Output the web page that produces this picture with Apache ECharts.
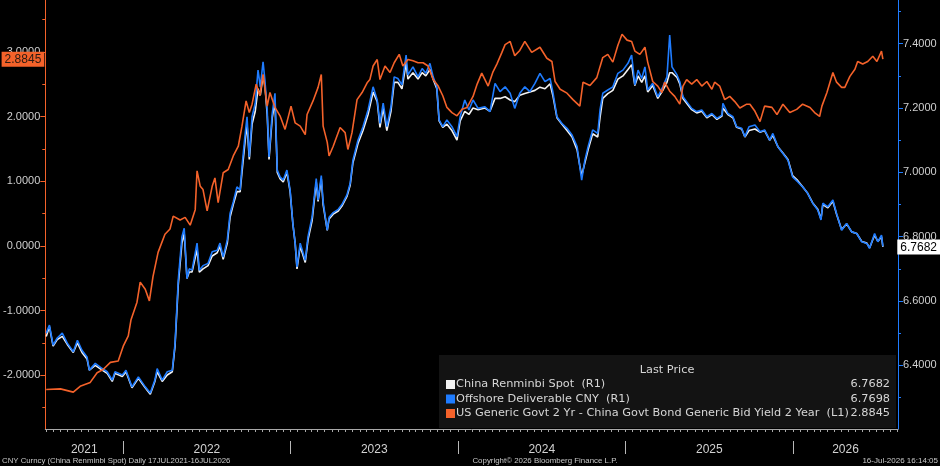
<!DOCTYPE html>
<html>
<head>
<meta charset="utf-8">
<style>
html, body { margin: 0; padding: 0; background: #000; }
#chart { width: 940px; height: 466px; }
</style>
<script src="https://cdn.jsdelivr.net/npm/echarts@6/dist/echarts.min.js"></script>
</head>
<body>
<div id="chart"></div>
<script>
// every series is [days after 17 Jul 2021, value]
const startDay = Date.UTC(2021, 6, 17)
const seriesNames = [
  'China Renminbi Spot  (R1)',
  'Offshore Deliverable CNY  (R1)',
  'US Generic Govt 2 Yr - China Govt Bond Generic Bid Yield 2 Year  (L1)'
]
const years = ['2021', '2022', '2023', '2024', '2025', '2026']
const leftTicks = [-2, -1, 0, 1, 2, 3]
const leftMinor = [-2.5, -1.5, -0.5, 0.5, 1.5, 2.5, 3.5]
const rightTicks = [6.4, 6.6, 6.8, 7.0, 7.2, 7.4]
const rightMinor = [6.3, 6.5, 6.7, 6.9, 7.1, 7.3, 7.5]

// US 2y minus China 2y yield spread (left axis)
const spread = [[0,-2.22],[31,-2.21],[59,-2.26],[74,-2.17],[96,-2.11],[111,-1.96],[124,-1.91],[140,-1.80],[157,-1.78],[168,-1.55],[179,-1.39],[185,-1.14],[198,-0.87],[205,-0.56],[216,-0.67],[225,-0.85],[233,-0.47],[244,-0.10],[259,0.18],[270,0.26],[277,0.46],[292,0.40],[303,0.44],[314,0.32],[325,0.56],[329,1.16],[336,0.92],[342,0.87],[351,0.54],[362,0.92],[368,1.05],[375,0.67],[386,1.13],[397,1.18],[408,1.39],[419,1.54],[427,1.85],[436,2.24],[443,2.06],[449,2.19],[458,2.50],[466,2.32],[473,2.65],[482,2.16],[488,2.37],[499,2.14],[510,2.01],[521,1.80],[534,2.16],[543,1.90],[554,1.85],[565,1.72],[569,2.03],[582,2.24],[593,2.45],[600,2.65],[604,1.85],[613,1.60],[617,1.39],[626,1.54],[641,1.83],[652,1.75],[658,1.49],[667,1.75],[678,2.26],[689,2.37],[700,2.52],[706,2.57],[713,2.78],[722,2.88],[728,2.57],[739,2.78],[750,2.68],[759,2.83],[770,2.96],[778,2.78],[789,2.88],[800,2.86],[811,2.83],[822,2.83],[833,2.78],[844,2.57],[855,2.47],[865,2.32],[874,2.14],[885,2.06],[896,2.01],[907,2.11],[918,2.14],[931,2.31],[940,2.50],[950,2.67],[964,2.47],[974,2.68],[983,2.81],[994,2.99],[1001,3.11],[1012,3.16],[1022,2.94],[1033,3.02],[1044,3.16],[1059,2.99],[1077,3.07],[1092,2.90],[1103,2.85],[1110,2.54],[1121,2.42],[1136,2.36],[1149,2.26],[1164,2.16],[1171,2.53],[1186,2.48],[1201,2.60],[1208,2.77],[1214,2.91],[1225,2.96],[1236,2.84],[1247,3.10],[1256,3.27],[1267,3.18],[1277,3.16],[1284,3.01],[1295,2.96],[1306,3.07],[1312,2.84],[1323,2.54],[1334,2.47],[1343,2.37],[1349,2.53],[1360,2.39],[1371,2.31],[1382,2.19],[1389,2.47],[1397,2.57],[1408,2.50],[1419,2.57],[1430,2.47],[1441,2.54],[1452,2.42],[1458,2.53],[1469,2.47],[1480,2.26],[1491,2.31],[1502,2.23],[1513,2.13],[1528,2.19],[1535,2.19],[1546,2.08],[1557,1.92],[1567,2.16],[1583,2.14],[1594,2.03],[1607,2.19],[1622,2.06],[1637,2.11],[1650,2.19],[1666,2.14],[1676,2.06],[1687,2.00],[1692,2.16],[1703,2.37],[1716,2.68],[1724,2.53],[1735,2.45],[1742,2.45],[1753,2.62],[1764,2.73],[1770,2.85],[1781,2.81],[1792,2.85],[1803,2.93],[1812,2.85],[1822,3.01],[1825,2.8845]]

// offshore deliverable CNY (right axis)
const offshore = [[0,6.50],[7,6.525],[15,6.463],[24,6.485],[35,6.50],[46,6.469],[59,6.442],[68,6.478],[78,6.447],[89,6.426],[94,6.385],[107,6.406],[122,6.39],[133,6.38],[144,6.354],[150,6.38],[166,6.37],[174,6.385],[187,6.333],[201,6.364],[216,6.333],[227,6.314],[237,6.354],[242,6.39],[253,6.354],[264,6.38],[275,6.385],[281,6.468],[288,6.665],[296,6.80],[301,6.826],[307,6.67],[312,6.70],[318,6.696],[329,6.78],[334,6.696],[342,6.71],[353,6.717],[362,6.753],[373,6.758],[379,6.78],[386,6.737],[395,6.79],[401,6.872],[408,6.908],[416,6.955],[423,6.945],[427,7.017],[434,7.12],[438,7.173],[443,7.048],[449,7.173],[456,7.215],[462,7.318],[467,7.266],[473,7.344],[477,7.287],[482,7.194],[486,7.048],[493,7.183],[499,7.246],[504,7.007],[510,6.986],[517,6.976],[525,7.007],[532,6.945],[538,6.841],[543,6.78],[547,6.706],[554,6.78],[565,6.727],[571,6.80],[580,6.862],[589,6.981],[593,6.914],[600,6.99],[604,6.908],[613,6.82],[617,6.86],[626,6.875],[637,6.885],[645,6.90],[656,6.93],[663,6.966],[669,7.038],[680,7.10],[691,7.142],[702,7.194],[713,7.266],[722,7.225],[728,7.152],[735,7.215],[743,7.142],[752,7.204],[759,7.297],[767,7.292],[776,7.272],[785,7.365],[789,7.303],[800,7.328],[811,7.297],[820,7.323],[828,7.308],[837,7.339],[844,7.297],[852,7.266],[857,7.163],[865,7.142],[874,7.163],[885,7.142],[896,7.111],[903,7.173],[913,7.225],[922,7.194],[931,7.225],[942,7.199],[957,7.204],[968,7.189],[979,7.277],[990,7.251],[1001,7.266],[1012,7.246],[1022,7.199],[1033,7.246],[1044,7.266],[1055,7.251],[1066,7.277],[1077,7.308],[1088,7.282],[1099,7.292],[1105,7.251],[1114,7.173],[1125,7.152],[1136,7.137],[1147,7.116],[1158,7.08],[1164,7.017],[1168,6.976],[1175,7.038],[1182,7.08],[1192,7.132],[1203,7.121],[1208,7.194],[1214,7.246],[1225,7.256],[1236,7.266],[1247,7.308],[1258,7.318],[1269,7.339],[1277,7.365],[1284,7.272],[1291,7.318],[1299,7.292],[1306,7.328],[1312,7.256],[1323,7.277],[1334,7.235],[1345,7.266],[1354,7.297],[1360,7.427],[1365,7.328],[1376,7.303],[1382,7.282],[1389,7.235],[1397,7.22],[1408,7.199],[1419,7.189],[1430,7.194],[1441,7.173],[1452,7.183],[1463,7.168],[1474,7.178],[1476,7.215],[1487,7.183],[1498,7.173],[1506,7.142],[1517,7.137],[1524,7.111],[1533,7.142],[1546,7.147],[1557,7.126],[1567,7.132],[1578,7.10],[1585,7.121],[1596,7.08],[1607,7.059],[1618,7.038],[1628,6.986],[1639,6.971],[1650,6.955],[1661,6.935],[1672,6.904],[1683,6.883],[1690,6.852],[1694,6.904],[1705,6.893],[1716,6.914],[1724,6.872],[1735,6.82],[1746,6.841],[1757,6.815],[1768,6.81],[1779,6.784],[1790,6.779],[1796,6.764],[1807,6.81],[1814,6.784],[1822,6.805],[1825,6.7698]]

// onshore spot CNY (right axis)
const spot = [[0,6.49],[7,6.52],[15,6.46],[24,6.48],[35,6.49],[46,6.465],[59,6.44],[68,6.47],[78,6.44],[89,6.42],[94,6.385],[107,6.40],[122,6.385],[133,6.375],[144,6.35],[150,6.375],[166,6.365],[174,6.38],[187,6.33],[201,6.36],[216,6.33],[227,6.31],[237,6.35],[242,6.38],[253,6.35],[264,6.37],[275,6.38],[281,6.46],[288,6.65],[296,6.78],[301,6.81],[307,6.67],[312,6.69],[318,6.69],[329,6.76],[334,6.69],[342,6.70],[353,6.71],[362,6.74],[373,6.75],[379,6.77],[386,6.73],[395,6.78],[401,6.86],[408,6.90],[416,6.94],[423,6.94],[427,7.00],[434,7.10],[438,7.15],[443,7.04],[449,7.15],[456,7.19],[462,7.26],[467,7.24],[473,7.30],[477,7.27],[482,7.18],[486,7.04],[493,7.17],[499,7.22],[504,7.00],[510,6.98],[517,6.97],[525,7.00],[532,6.94],[538,6.84],[543,6.78],[547,6.70],[554,6.77],[565,6.72],[571,6.79],[580,6.85],[589,6.97],[593,6.91],[600,6.98],[604,6.90],[613,6.82],[617,6.855],[626,6.87],[637,6.88],[645,6.895],[656,6.925],[663,6.96],[669,7.03],[680,7.09],[691,7.13],[702,7.18],[713,7.25],[722,7.22],[728,7.14],[735,7.20],[743,7.13],[752,7.19],[759,7.28],[767,7.28],[776,7.26],[785,7.34],[789,7.29],[800,7.31],[811,7.29],[820,7.31],[828,7.30],[837,7.32],[844,7.29],[852,7.26],[857,7.16],[865,7.14],[874,7.15],[885,7.13],[896,7.10],[903,7.16],[913,7.19],[922,7.18],[931,7.20],[942,7.195],[957,7.20],[968,7.19],[979,7.23],[990,7.23],[1001,7.235],[1012,7.225],[1022,7.22],[1033,7.24],[1044,7.245],[1055,7.25],[1066,7.255],[1077,7.265],[1088,7.26],[1099,7.275],[1105,7.24],[1114,7.17],[1125,7.15],[1136,7.13],[1147,7.11],[1158,7.07],[1164,7.02],[1168,6.99],[1175,7.03],[1182,7.07],[1192,7.12],[1203,7.11],[1208,7.17],[1214,7.23],[1225,7.245],[1236,7.255],[1247,7.29],[1258,7.30],[1269,7.32],[1277,7.335],[1284,7.27],[1291,7.30],[1299,7.28],[1306,7.30],[1312,7.25],[1323,7.27],[1334,7.23],[1345,7.255],[1354,7.28],[1360,7.31],[1365,7.31],[1376,7.295],[1382,7.275],[1389,7.23],[1397,7.215],[1408,7.195],[1419,7.185],[1430,7.19],[1441,7.17],[1452,7.18],[1463,7.165],[1474,7.175],[1476,7.20],[1487,7.18],[1498,7.17],[1506,7.14],[1517,7.135],[1524,7.11],[1533,7.13],[1546,7.135],[1557,7.125],[1567,7.13],[1578,7.10],[1585,7.115],[1596,7.08],[1607,7.06],[1618,7.04],[1628,6.99],[1639,6.975],[1650,6.955],[1661,6.935],[1672,6.905],[1683,6.885],[1690,6.855],[1694,6.90],[1705,6.89],[1716,6.91],[1724,6.87],[1735,6.822],[1746,6.84],[1757,6.815],[1768,6.81],[1779,6.785],[1790,6.78],[1796,6.765],[1807,6.805],[1814,6.785],[1822,6.80],[1825,6.7682]]

const colors = ['#f2f2f2', '#1f7cff', '#f4622a']
const font = 'Liberation Sans, Arial, sans-serif'
const legendFont = 'DejaVu Sans, Verdana, sans-serif'

const axisMin = Date.UTC(2021, 6, 15)
const axisMax = Date.UTC(2026, 7, 18)
const toTime = (pts) => pts.map(([d, v]) => [startDay + d * 864e5, v])

// ticks on the 1st and 16th of each month
const halfMonthTicks = []
for (let y = 2021; y <= 2026; y++) {
  for (let m = 0; m < 12; m++) {
    for (const day of [1, 16]) {
      const t = Date.UTC(y, m, day)
      if (t > axisMin && t < axisMax) halfMonthTicks.push(t)
    }
  }
}
const yearStarts = years.slice(1).map(y => Date.UTC(+y, 0, 1))
const yearMids = years.map(y => {
  const a = Math.max(axisMin, Date.UTC(+y, 0, 1))
  const b = Math.min(axisMax, Date.UTC(+y + 1, 0, 1))
  return (a + b) / 2
})

const lastSpot = spot[spot.length - 1][1]
const lastOffshore = offshore[offshore.length - 1][1]
const lastSpread = spread[spread.length - 1][1]
const lastValues = [lastSpot, lastOffshore, lastSpread]

const yRange = {
  left: { min: -2.83, max: 3.80 },
  right: { min: 6.202, max: 7.536 }
}

function valueAxis (side, range, color, ticks, extra) {
  return Object.assign({
    type: 'value',
    position: side,
    min: range.min,
    max: range.max,
    splitLine: { show: false },
    axisLine: { show: true, lineStyle: { color, width: 1 } },
    axisTick: { show: true, inside: false, length: 5, customValues: ticks, lineStyle: { color } },
    axisLabel: {
      show: true,
      customValues: ticks,
      formatter: v => v.toFixed(4),
      color: '#cfcfcf',
      fontSize: 11,
      fontFamily: font,
      margin: 5
    }
  }, extra || {})
}

function minorAxis (side, range, color, ticks) {
  return {
    type: 'value',
    position: side,
    min: range.min,
    max: range.max,
    splitLine: { show: false },
    axisLine: { show: false },
    axisTick: { show: true, length: 3, customValues: ticks, lineStyle: { color } },
    axisLabel: { show: false }
  }
}

function lastLabel (value, bg, fg) {
  return {
    show: true,
    status: 'show',
    value,
    type: 'line',
    triggerTooltip: false,
    lineStyle: { opacity: 0 },
    label: {
      show: true,
      formatter: p => Number(p.value).toFixed(4),
      backgroundColor: bg,
      color: fg,
      fontSize: 12,
      fontFamily: font,
      padding: [2, 3, 1, 3],
      margin: 1,
      borderRadius: 0
    }
  }
}

const legendTop = 355
const rowY = [384.5, 399, 413.5]
const legendSize = '11.3px '
const legendGraphics = [
  { type: 'rect', shape: { x: 439, y: legendTop, width: 457, height: 73 }, style: { fill: '#131313' }, z: 10 },
  { type: 'text', z: 11, style: { x: 667, y: 370.5, text: 'Last Price', fill: '#d6d6d6', font: legendSize + legendFont, align: 'center', verticalAlign: 'middle' } }
]
seriesNames.forEach((name, i) => {
  legendGraphics.push(
    { type: 'rect', z: 11, shape: { x: 446, y: rowY[i] - 4.5, width: 9, height: 9 }, style: { fill: colors[i] } },
    { type: 'text', z: 11, style: { x: 456, y: rowY[i], text: name, fill: '#d6d6d6', font: legendSize + legendFont, align: 'left', verticalAlign: 'middle' } },
    { type: 'text', z: 11, style: { x: 890, y: rowY[i], text: lastValues[i].toFixed(4), fill: '#d6d6d6', font: legendSize + legendFont, align: 'right', verticalAlign: 'middle' } }
  )
})
const footer = [
  { type: 'text', style: { x: 2, y: 461, text: 'CNY Curncy (China Renminbi Spot) Daily 17JUL2021-16JUL2026', fill: '#c8c8c8', font: '7.8px ' + font, align: 'left', verticalAlign: 'middle' } },
  { type: 'text', style: { x: 545, y: 461, text: 'Copyright\u00a9 2026 Bloomberg Finance L.P.', fill: '#c8c8c8', font: '7.9px ' + font, align: 'center', verticalAlign: 'middle' } },
  { type: 'text', style: { x: 938, y: 461, text: '16-Jul-2026 16:14:05', fill: '#c8c8c8', font: '8px ' + font, align: 'right', verticalAlign: 'middle' } }
]

const chart = echarts.init(document.getElementById('chart'))
chart.setOption({
  backgroundColor: '#000',
  animation: false,
  textStyle: { fontFamily: font },
  grid: { left: 45, right: 42, top: 0, bottom: 37, containLabel: false },
  xAxis: [
    {
      type: 'value',
      min: axisMin,
      max: axisMax,
      splitLine: { show: false },
      axisLine: { show: true, onZero: false, lineStyle: { color: '#a8a8a8', width: 1 } },
      axisTick: { show: true, length: 3, customValues: halfMonthTicks, lineStyle: { color: '#a8a8a8' } },
      axisLabel: { show: false }
    },
    {
      type: 'value',
      min: axisMin,
      max: axisMax,
      position: 'bottom',
      offset: 12,
      splitLine: { show: false },
      axisLine: { show: false, onZero: false },
      axisTick: { show: true, length: 13, customValues: yearStarts, lineStyle: { color: '#b8b8b8' } },
      axisLabel: {
        show: true,
        customValues: yearMids,
        formatter: v => String(new Date(v).getUTCFullYear()),
        color: '#d2d2d2',
        fontSize: 12,
        fontFamily: font,
        margin: 3
      }
    }
  ],
  yAxis: [
    valueAxis('left', yRange.left, colors[2], leftTicks, { axisPointer: lastLabel(lastSpread, '#f4622a', '#2a1a12') }),
    valueAxis('right', yRange.right, colors[1], rightTicks, { axisPointer: lastLabel(lastSpot, '#ffffff', '#000000') }),
    minorAxis('left', yRange.left, colors[2], leftMinor),
    minorAxis('right', yRange.right, colors[1], rightMinor)
  ],
  series: [
    {
      name: seriesNames[0], type: 'line', yAxisIndex: 1, data: toTime(spot),
      showSymbol: false, lineStyle: { color: colors[0], width: 1.6 }, z: 2
    },
    {
      name: seriesNames[1], type: 'line', yAxisIndex: 1, data: toTime(offshore),
      showSymbol: false, lineStyle: { color: colors[1], width: 1.6 }, z: 3
    },
    {
      name: seriesNames[2], type: 'line', yAxisIndex: 0, data: toTime(spread),
      showSymbol: false, lineStyle: { color: colors[2], width: 1.6 }, z: 4
    }
  ],
  graphic: legendGraphics.concat(footer)
})
</script>
